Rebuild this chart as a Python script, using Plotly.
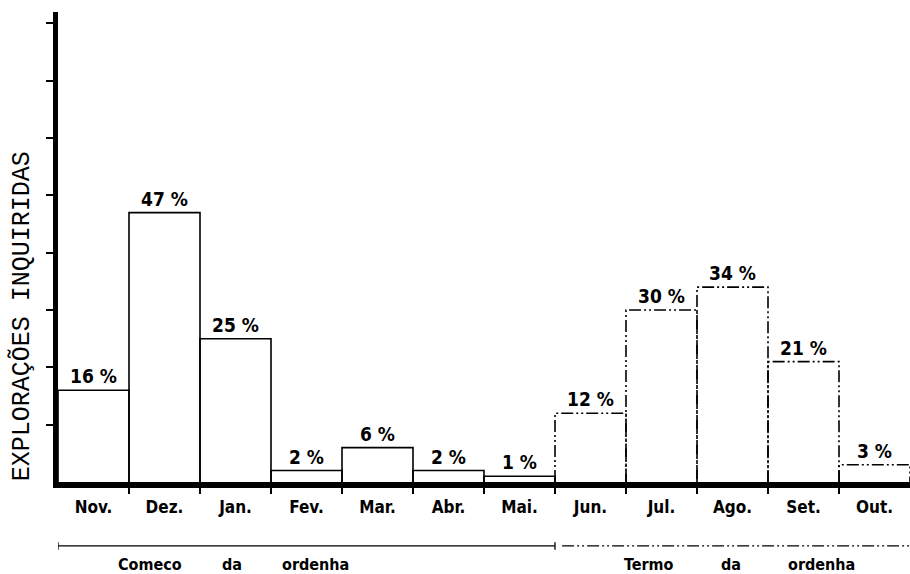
import plotly.graph_objects as go

months = ["Nov.", "Dez.", "Jan.", "Fev.", "Mar.", "Abr.", "Mai.",
          "Jun.", "Jul.", "Ago.", "Set.", "Out."]
percent = [16, 47, 25, 2, 6, 2, 1, 12, 30, 34, 21, 3]
n_start = 7  # first 7 months: "Começo da ordenha" (solid), rest: "Termo da ordenha" (dash-dot)
y_ticks = [10, 20, 30, 40, 50, 60, 70, 80]
group_words = [("Comeco", 0.80), ("da", 1.95), ("ordenha", 3.13),
               ("Termo", 7.82), ("da", 8.98), ("ordenha", 10.26)]

LBL = dict(family="DejaVu Sans Condensed", size=17, color="black", weight="bold")
DASHDOT = "12px,3px,2px,3px,2px,3px"


def outline(idxs):
    xs, ys = [], []
    for i in idxs:
        v = percent[i]
        xs += [i - 0.5, i - 0.5, i + 0.5, i + 0.5, None]
        ys += [0, v, v, 0, None]
    return xs, ys


fig = go.Figure()
xs, ys = outline(range(0, n_start))
fig.add_trace(go.Scatter(x=xs, y=ys, mode="lines", line=dict(color="black", width=1.6),
                         hoverinfo="skip", showlegend=False))
xs, ys = outline(range(n_start, len(months)))
fig.add_trace(go.Scatter(x=xs, y=ys, mode="lines",
                         line=dict(color="black", width=1.6, dash=DASHDOT),
                         hoverinfo="skip", showlegend=False))

for i, v in enumerate(percent):
    fig.add_annotation(x=i, y=v, text=f"{v} %", showarrow=False, yanchor="bottom",
                       yshift=1, font=dict(family="DejaVu Sans Condensed", size=19,
                                           color="black", weight="bold"))

# group brackets below the month labels
yb = -0.136
fig.add_shape(type="line", xref="x", yref="paper", x0=-0.5, x1=n_start - 0.5, y0=yb, y1=yb,
              line=dict(color="black", width=1.3))
fig.add_shape(type="line", xref="x", yref="paper", x0=n_start - 0.4, x1=len(months) - 0.5,
              y0=yb, y1=yb, line=dict(color="black", width=1.3, dash=DASHDOT))
for xe in [-0.5, n_start - 0.5]:
    fig.add_shape(type="line", xref="x", yref="paper", x0=xe, x1=xe, y0=yb - 0.008, y1=yb + 0.008,
                  line=dict(color="black", width=1.3))
for w, xw in group_words:
    fig.add_annotation(x=xw, y=-0.176, xref="x", yref="paper", text=w, showarrow=False,
                       yanchor="middle", font=dict(LBL, size=16))

fig.add_annotation(x=-0.042, y=0.353, xref="paper", yref="paper", text="EXPLORAÇÕES INQUIRIDAS",
                   textangle=-90, showarrow=False, xanchor="center", yanchor="middle",
                   font=dict(family="Liberation Mono", size=25, color="black"))

fig.update_xaxes(range=[-0.5, len(months) - 0.5], tickvals=list(range(len(months))),
                 ticktext=months, ticks="", tickfont=LBL, showgrid=False, zeroline=False,
                 showline=True, linecolor="black", linewidth=6, ticklabelstandoff=5,
                 minor=dict(tickvals=[i + 0.5 for i in range(len(months) - 1)],
                            ticks="outside", ticklen=6, tickwidth=1.5, tickcolor="black",
                            showgrid=False))
fig.update_yaxes(range=[0, 82], tickvals=y_ticks, showticklabels=False, ticks="outside",
                 ticklen=7, tickwidth=2, tickcolor="black", showgrid=False, zeroline=False,
                 showline=True, linecolor="black", linewidth=5)

fig.update_layout(width=910, height=574, margin=dict(l=58, r=0, t=12, b=92),
                  plot_bgcolor="white", paper_bgcolor="white")
fig.write_html("out.html", config={"displayModeBar": False},
               post_script="document.body.style.margin='0';")
